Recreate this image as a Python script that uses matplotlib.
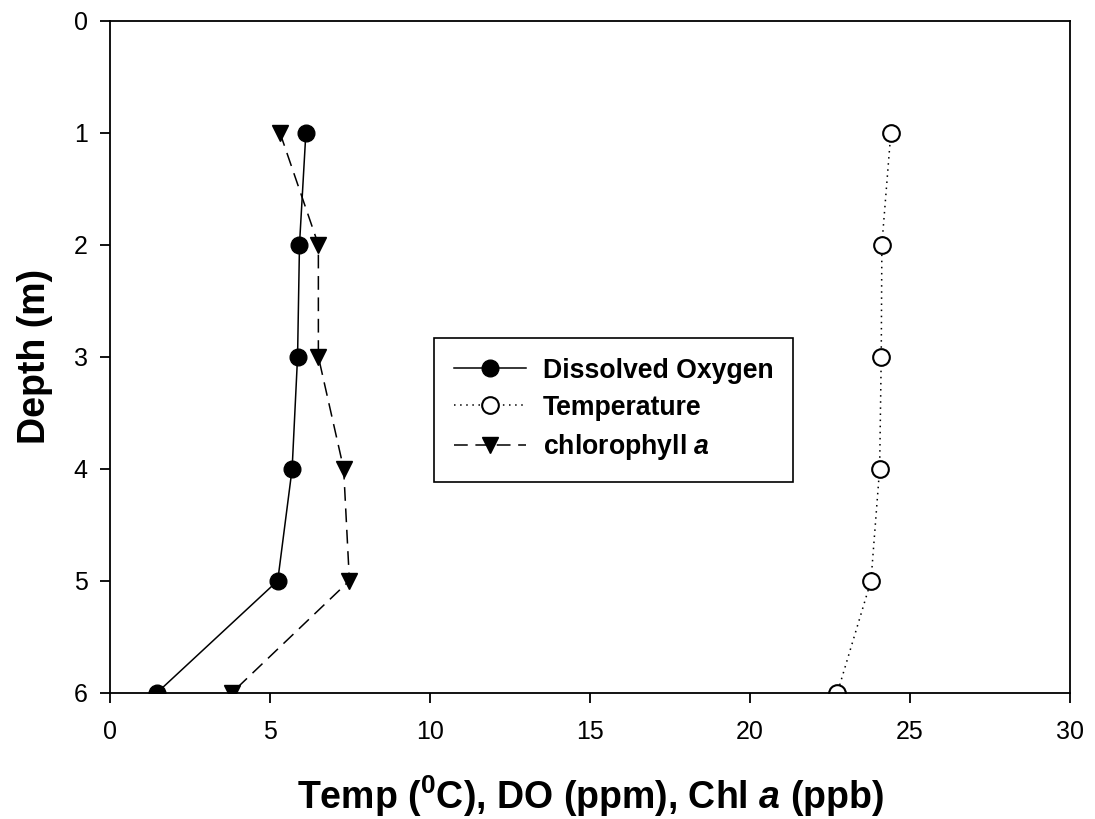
import matplotlib
matplotlib.use("Agg")
import matplotlib.pyplot as plt

plt.rcParams['font.family'] = ['Liberation Sans', 'DejaVu Sans']
plt.rcParams['mathtext.fontset'] = 'custom'
plt.rcParams['mathtext.rm'] = 'Liberation Sans:bold'
plt.rcParams['mathtext.it'] = 'Liberation Sans:bold:italic'
plt.rcParams['mathtext.bf'] = 'Liberation Sans:bold'

depth = [1, 2, 3, 4, 5, 6]
dissolved_oxygen = [6.12, 5.92, 5.86, 5.69, 5.24, 1.47]
temperature = [24.40, 24.12, 24.10, 24.05, 23.78, 22.73]
chlorophyll = [5.31, 6.51, 6.51, 7.30, 7.48, 3.81]

fig = plt.figure(figsize=(10.95, 8.19), dpi=100)
ax = fig.add_axes([0.1005, 0.1542, 0.8767, 0.8205])

ax.plot(dissolved_oxygen, depth, color='black', linestyle='-', linewidth=1.1,
        marker='o', markersize=12, markerfacecolor='black',
        label='Dissolved Oxygen')
ax.plot(temperature, depth, color='black', linestyle=(0, (1, 3)), linewidth=1.1,
        marker='o', markersize=12, markerfacecolor='white', markeredgewidth=1.5,
        label='Temperature')
ax.plot(chlorophyll, depth, color='black', linestyle=(0, (9, 5)), linewidth=1.1,
        marker='v', markersize=12, markerfacecolor='black',
        label=r'chlorophyll $\it{a}$')

ax.set_xlim(0, 30)
ax.set_ylim(6, 0)
ax.set_xticks(range(0, 31, 5))
ax.set_yticks(range(0, 7))
ax.tick_params(direction='out', length=7, width=1.3, labelsize=18)
ax.tick_params(axis='x', pad=13)
ax.tick_params(axis='y', pad=9)
for s in ax.spines.values():
    s.set_linewidth(1.3)

ax.set_xlabel(r'Temp ($^0$C), DO (ppm), Chl $\it{a}$ (ppb)',
              fontsize=27, fontweight='bold', labelpad=21)
ax.set_ylabel('Depth (m)', fontsize=27, fontweight='bold', labelpad=15)

leg = ax.legend(loc='upper left', bbox_to_anchor=(0.3375, 0.528),
                borderaxespad=0, fancybox=False, edgecolor='black',
                framealpha=1, prop={'weight': 'bold', 'size': 19.2},
                handlelength=2.7, handletextpad=0.65, borderpad=0.74,
                labelspacing=0.42)
leg.get_frame().set_linewidth(1.2)

plt.savefig('out.png', dpi=100)
